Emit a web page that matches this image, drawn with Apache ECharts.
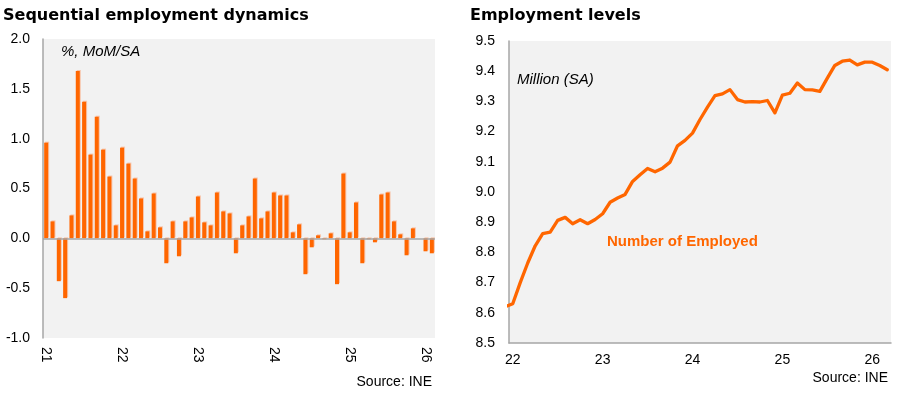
<!DOCTYPE html>
<html>
<head>
<meta charset="utf-8">
<script src="https://cdn.jsdelivr.net/npm/echarts@6/dist/echarts.min.js"></script>
<style>
html,body{margin:0;padding:0;background:#fff;}
#c{width:900px;height:394px;}
</style>
</head>
<body>
<div id="c"></div>
<script>
// ---- Left chart: monthly % change (Jan 2021 - Feb 2026)
const leftStartYear = 2021;
const leftBarValues = [
  0.96, 0.17, -0.43, -0.60, 0.23, 1.68, 1.37, 0.84, 1.22, 0.89, 0.62, 0.13,
  0.91, 0.75, 0.60, 0.40, 0.07, 0.45, 0.11, -0.25, 0.17, -0.18, 0.17, 0.21,
  0.42, 0.16, 0.13, 0.46, 0.27, 0.25, -0.15, 0.13, 0.22, 0.60, 0.20, 0.27,
  0.46, 0.43, 0.43, 0.06, 0.14, -0.36, -0.09, 0.03, -0.01, 0.05, -0.46, 0.65,
  0.06, 0.36, -0.25, -0.01, -0.04, 0.44, 0.46, 0.17, 0.04, -0.17, 0.10, 0.00,
  -0.13, -0.15
];
const leftTickLabels = ['21', '22', '23', '24', '25', '26'];

// ---- Right chart: employment level, million (Dec 2021 - Mar 2026)
const rightMonthIndex = [
  -1, 0, 1, 2, 3, 4, 5, 6, 7, 8, 9, 10, 11,
  12, 13, 14, 15, 16, 17, 18, 19, 20, 21, 22, 23,
  24, 25, 26, 27, 28, 29, 30, 31, 32, 33, 34, 35,
  36, 37, 38, 39, 40, 41, 42, 43, 44, 45, 46, 47,
  48, 49, 50
];
const rightLevels = [
  8.620, 8.630, 8.700, 8.765, 8.822, 8.862, 8.867, 8.906, 8.916, 8.895, 8.908, 8.895, 8.909,
  8.928, 8.966, 8.980, 8.992, 9.035, 9.057, 9.078, 9.067, 9.079, 9.099, 9.153, 9.171,
  9.195, 9.240, 9.281, 9.319, 9.325, 9.339, 9.306, 9.298, 9.299, 9.298, 9.303, 9.262,
  9.321, 9.327, 9.361, 9.339, 9.338, 9.333, 9.377, 9.419, 9.433, 9.437, 9.421, 9.430,
  9.430, 9.419, 9.405
];
const rightTickValues = [0, 12, 24, 36, 48];
const rightTickLabels = ['22', '23', '24', '25', '26'];

const ORANGE = '#FF6600';
const AXIS_GRAY = '#A6A6A6';
const BG = '#F2F2F2';
const FONT = '"Liberation Sans", Arial, sans-serif';

const leftCategories = leftBarValues.map((_, i) =>
  (leftStartYear + Math.floor(i / 12)) + '-' + String(i % 12 + 1).padStart(2, '0'));

const chart = echarts.init(document.getElementById('c'), null, {renderer: 'canvas'});

chart.setOption({
  animation: false,
  backgroundColor: '#ffffff',
  textStyle: {fontFamily: FONT},
  grid: [
    {left: 43, right: 465, top: 39, bottom: 56, show: true, backgroundColor: BG, borderWidth: 0},
    {left: 509, right: 9, top: 41, bottom: 51, show: true, backgroundColor: BG, borderWidth: 0}
  ],
  xAxis: [
    {
      gridIndex: 0, type: 'category', data: leftCategories, boundaryGap: true,
      axisLine: {show: false, onZero: false},
      axisTick: {show: false},
      splitLine: {show: false},
      axisLabel: {
        interval: 11, rotate: -90, margin: 9, fontSize: 14, color: '#000', fontFamily: FONT,
        formatter: (v, i) => leftTickLabels[Math.round(i / 12)]
      }
    },
    {
      gridIndex: 1, type: 'value', min: -0.5, max: 50.5,
      axisLine: {show: true, onZero: false, lineStyle: {color: AXIS_GRAY, width: 1.5}},
      axisTick: {show: false},
      splitLine: {show: false},
      axisLabel: {
        customValues: rightTickValues, margin: 10, fontSize: 14, color: '#000', fontFamily: FONT,
        formatter: (v) => {
          const k = rightTickValues.indexOf(Math.round(v));
          return k >= 0 ? rightTickLabels[k] : '';
        }
      }
    }
  ],
  yAxis: [
    {
      gridIndex: 0, type: 'value', min: -1, max: 2, interval: 0.5,
      axisLine: {show: true, lineStyle: {color: AXIS_GRAY, width: 1.5}},
      axisTick: {show: false},
      splitLine: {show: false},
      axisLabel: {margin: 13, fontSize: 14, color: '#000', fontFamily: FONT, formatter: v => v.toFixed(1)}
    },
    {
      gridIndex: 1, type: 'value', min: 8.5, max: 9.5, interval: 0.1,
      axisLine: {show: true, onZero: false, lineStyle: {color: AXIS_GRAY, width: 1.5}},
      axisTick: {show: false},
      splitLine: {show: false},
      axisLabel: {margin: 14, fontSize: 14, color: '#000', fontFamily: FONT, formatter: v => v.toFixed(1)}
    }
  ],
  series: [
    {
      type: 'bar', xAxisIndex: 0, yAxisIndex: 0, data: leftBarValues, barWidth: 4,
      itemStyle: {
        color: ORANGE,
        shadowColor: 'rgba(255,140,80,0.45)', shadowBlur: 0, shadowOffsetX: 1, shadowOffsetY: -1
      },
      markLine: {
        silent: true, symbol: 'none', label: {show: false},
        lineStyle: {color: AXIS_GRAY, type: 'solid', width: 1.5},
        data: [{yAxis: 0}]
      },
      z: 3
    },
    {
      type: 'line', xAxisIndex: 1, yAxisIndex: 1,
      data: rightMonthIndex.map((m, i) => [m, rightLevels[i]]),
      showSymbol: false, symbol: 'none', clip: true,
      lineStyle: {color: ORANGE, width: 3.3, join: 'round', cap: 'round'}
    }
  ],
  graphic: [
    {type: 'text', x: 3, y: 16, style: {text: 'Sequential employment dynamics', font: 'bold 16px "DejaVu Sans"', fill: '#000', verticalAlign: 'middle', textVerticalAlign: 'middle'}},
    {type: 'text', x: 470, y: 16, style: {text: 'Employment levels', font: 'bold 16px "DejaVu Sans"', fill: '#000', verticalAlign: 'middle', textVerticalAlign: 'middle'}},
    {type: 'text', x: 61, y: 52, style: {text: '%, MoM/SA', font: 'italic 15px "Liberation Sans"', fill: '#000', verticalAlign: 'middle', textVerticalAlign: 'middle'}},
    {type: 'text', x: 517, y: 80, style: {text: 'Million (SA)', font: 'italic 15px "Liberation Sans"', fill: '#000', verticalAlign: 'middle', textVerticalAlign: 'middle'}},
    {type: 'text', x: 607, y: 242, style: {text: 'Number of Employed', font: 'bold 15px "Liberation Sans"', fill: ORANGE, verticalAlign: 'middle', textVerticalAlign: 'middle'}},
    {type: 'text', x: 432, y: 382, style: {text: 'Source: INE', font: '14px "Liberation Sans"', fill: '#000', align: 'right', textAlign: 'right', verticalAlign: 'middle', textVerticalAlign: 'middle'}},
    {type: 'text', x: 888, y: 378, style: {text: 'Source: INE', font: '14px "Liberation Sans"', fill: '#000', align: 'right', textAlign: 'right', verticalAlign: 'middle', textVerticalAlign: 'middle'}}
  ]
});
</script>
</body>
</html>
